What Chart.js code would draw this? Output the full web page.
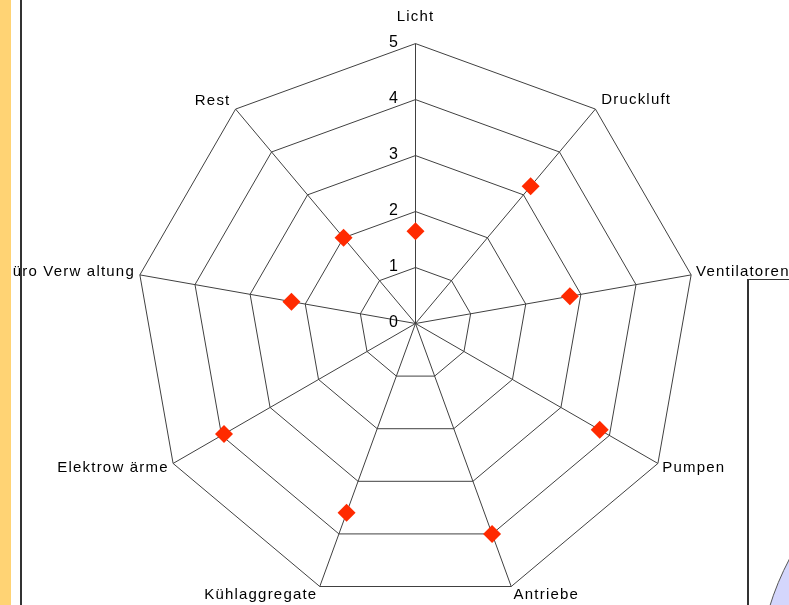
<!DOCTYPE html>
<html>
<head>
<meta charset="utf-8">
<script src="https://cdn.jsdelivr.net/npm/chart.js@4/dist/chart.umd.min.js"></script>
<style>
  html, body { margin: 0; padding: 0; }
  body { width: 789px; height: 605px; overflow: hidden; position: relative; background: #fff; }
  #radar { position: absolute; z-index: 0; }
  #strip { position: absolute; left: 0; top: 0; width: 11px; height: 605px; background: #ffd374; z-index: 2; }
  #rule { position: absolute; left: 20px; top: 0; width: 2px; height: 605px; background: #333; z-index: 2; }
  #box { position: absolute; left: 747px; top: 279px; width: 80px; height: 400px; background: #fff;
         border-left: 2px solid #333; border-top: 1px solid #333; overflow: hidden; z-index: 2; }
  #slice { position: absolute; left: 8px; top: 134px; width: 544px; height: 544px; border-radius: 50%;
           background: #d4d6fc; border: 1px solid #555; }
</style>
</head>
<body>
<canvas id="radar"></canvas>
<div id="strip"></div>
<div id="rule"></div>
<div id="box"><div id="slice"></div></div>

<script>
// Kategorien und Werte (Skala 0..5)
const CATEGORIES = ['Licht', 'Druckluft', 'Ventilatoren', 'Pumpen', 'Antriebe',
                    'Kühlaggregate', 'Elektrow ärme', 'Büro Verw altung', 'Rest'];
const VALUES = [1.65, 3.2, 2.8, 3.8, 4.0, 3.6, 3.95, 2.25, 2.0];
const TICK_VALUES = [0, 1, 2, 3, 4, 5];

// Layout
const CENTER_X = 415;
const CENTER_Y = 323;
const RADIUS = 280;
const LABEL_PAD = [25, 9, 5, 5, 7, 7, 5, 5, 8];
const LABEL_SPACING = '1.2px';
const FONT = '"Liberation Sans", Arial, sans-serif';

const canvas = document.getElementById('radar');

const labelPlugin = {
    id: 'excelLook',
    beforeUpdate(chart) {
        chart.ctx.letterSpacing = LABEL_SPACING;
    },
    beforeDraw(chart) {
        const ctx = chart.ctx;
        ctx.save();
        ctx.translate(0.5, 0.5);
        ctx.letterSpacing = LABEL_SPACING;
    },
    afterDraw(chart) {
        const ctx = chart.ctx;
        const r = chart.scales.r;
        // Achsenbeschriftung links neben der senkrechten Achse, inkl. 0
        ctx.save();
        ctx.letterSpacing = '0px';
        ctx.font = '16px ' + FONT;
        ctx.fillStyle = '#000';
        ctx.textAlign = 'center';
        ctx.textBaseline = 'middle';
        r.ticks.forEach(tick => {
            const d = r.getDistanceFromCenterForValue(tick.value);
            ctx.fillText(tick.label, r.xCenter - 22, r.yCenter - d - 1);
        });
        ctx.restore();
        ctx.restore();
    }
};

function makeChart(size) {
    canvas.width = size;
    canvas.height = size;
    return new Chart(canvas, {
        type: 'radar',
        data: {
            labels: CATEGORIES,
            datasets: [{
                data: VALUES,
                showLine: false,
                fill: false,
                borderWidth: 0,
                backgroundColor: 'transparent',
                pointStyle: 'rectRot',
                pointRadius: 9,
                pointBorderWidth: 0,
                pointBackgroundColor: '#ff2a00',
                pointBorderColor: '#ff2a00'
            }]
        },
        options: {
            responsive: false,
            animation: false,
            events: [],
            plugins: { legend: { display: false }, tooltip: { enabled: false } },
            scales: {
                r: {
                    min: TICK_VALUES[0],
                    max: TICK_VALUES[TICK_VALUES.length - 1],
                    ticks: { stepSize: 1, display: false },
                    grid: { color: '#404040', lineWidth: 1 },
                    angleLines: { color: '#404040', lineWidth: 1 },
                    pointLabels: {
                        color: '#000',
                        font: { family: FONT, size: 15, lineHeight: '4px' },
                        padding: ctx => LABEL_PAD[ctx.index]
                    }
                }
            }
        },
        plugins: [labelPlugin]
    });
}

// Leinwand so lange anpassen, bis der Radius passt
let size = 860;
let chart = makeChart(size);
for (let i = 0; i < 4; i++) {
    const diff = RADIUS - chart.scales.r.drawingArea;
    if (Math.abs(diff) < 0.5) break;
    size = Math.round(size + 2 * diff);
    chart.destroy();
    chart = makeChart(size);
}
const rs = chart.scales.r;
canvas.style.left = (CENTER_X - rs.xCenter) + 'px';
canvas.style.top = (CENTER_Y - rs.yCenter) + 'px';
</script>
</body>
</html>
